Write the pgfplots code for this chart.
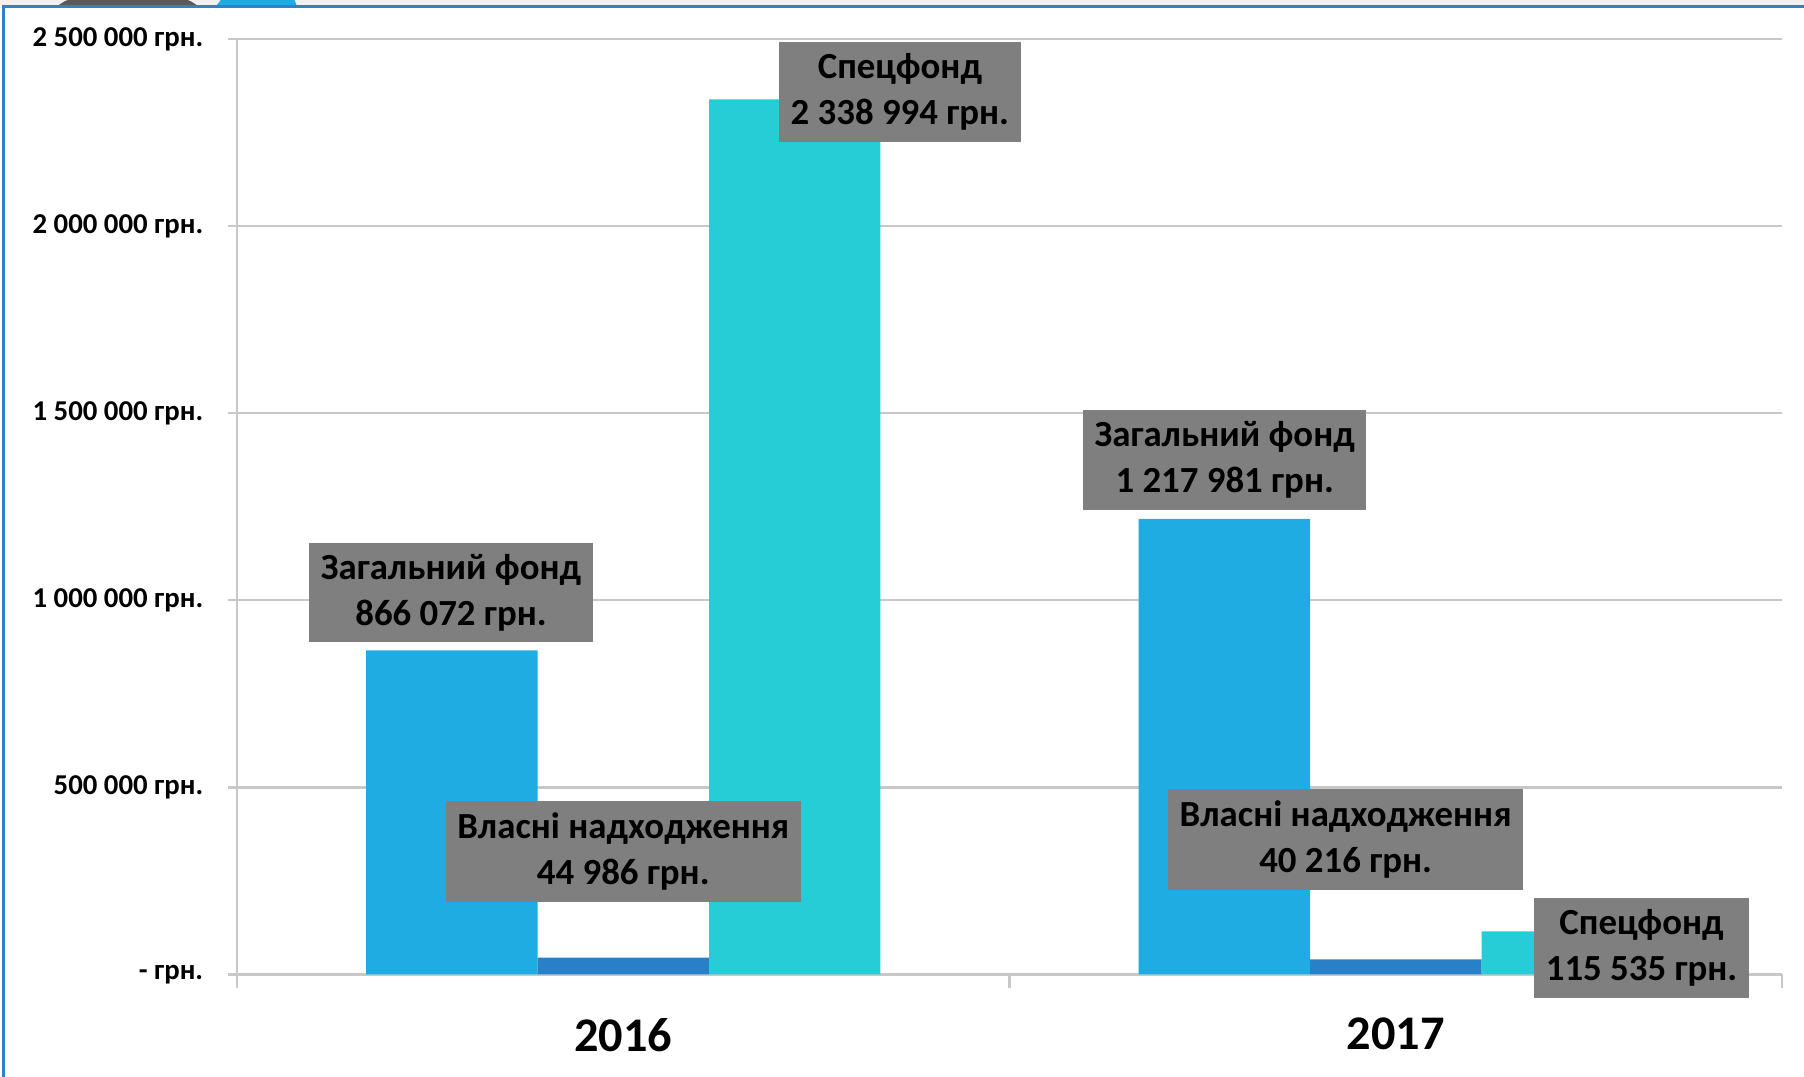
\documentclass[border=0pt]{standalone}
\usepackage{fontspec}
\setmainfont{Carlito}
\usepackage{pgfplots}
\usepackage{pgfplotstable}
\pgfplotsset{compat=1.18}

\definecolor{zag}{HTML}{1EACE2}
\definecolor{vla}{HTML}{2881C6}
\definecolor{spec}{HTML}{26CDD6}
\definecolor{gridc}{HTML}{C8C8C8}
\definecolor{lblbox}{HTML}{7F7F7F}
\definecolor{framec}{HTML}{2A84C9}

% 0 = 2016, 1 = 2017
\pgfplotstableread{
year zag vla spec
0 866072 44986 2338994
1 1217981 40216 115535
}\budget

\tikzset{lbl/.style={fill=lblbox, text=black, align=center, inner xsep=5pt, inner ysep=5pt,
  font=\fontsize{16}{20}\selectfont\bfseries}}

\begin{document}
\begin{tikzpicture}
\useasboundingbox (-103pt,-44.5pt) rectangle (681pt,423.5pt);
\begin{axis}[
  scale only axis, width=671.5pt, height=406.5pt,
  ybar=0pt, bar width=74.5pt,
  xmin=-0.5, xmax=1.5, ymin=0, ymax=2500000,
  xtick={0,1}, xticklabels={2016,2017},
  ytick={0,500000,1000000,1500000,2000000,2500000},
  yticklabels={- грн., 500 000 грн., 1 000 000 грн., 1 500 000 грн., 2 000 000 грн., 2 500 000 грн.},
  scaled y ticks=false,
  axis x line*=bottom, axis y line*=left,
  axis line style={draw=gridc, line width=1pt, -},
  ymajorgrids, grid style={draw=gridc, line width=1pt},
  tick align=outside, major tick length=4pt,
  ytick style={draw=gridc, line width=1pt},
  xtick style={draw=none},
  yticklabel style={font=\fontsize{12.5}{15}\selectfont\bfseries, inner sep=0pt, xshift=-10.5pt},
  xticklabel style={font=\fontsize{21}{25}\selectfont\bfseries, yshift=-11.5pt},
  clip=false,
]
\addplot[fill=zag, draw=none] table[x=year, y=zag] {\budget};
\addplot[fill=vla, draw=none] table[x=year, y=vla] {\budget};
\addplot[fill=spec, draw=none] table[x=year, y=spec] {\budget};

\draw[gridc, line width=1pt] (axis cs:-0.5,0) -- ([yshift=-6pt]axis cs:-0.5,0);
\draw[gridc, line width=1pt] (axis cs:0.5,0) -- ([yshift=-6pt]axis cs:0.5,0);
\draw[gridc, line width=1pt] (axis cs:1.5,0) -- ([yshift=-6pt]axis cs:1.5,0);

\node[lbl] at (axis cs:-0.223,1020900) {Загальний фонд\\866 072 грн.};
\node[lbl] at (axis cs:0,329000) {Власні надходження\\44 986 грн.};
\node[lbl] at (axis cs:0.358,2358500) {Спецфонд\\2 338 994 грн.};
\node[lbl] at (axis cs:0.7785,1374500) {Загальний фонд\\1 217 981 грн.};
\node[lbl] at (axis cs:0.935,360000) {Власні надходження\\40 216 грн.};
\node[lbl] at (axis cs:1.318,70700) {Спецфонд\\115 535 грн.};
\end{axis}

% window frame of the screenshot
\fill[gray!12] (-103pt,421.5pt) rectangle (681pt,423.5pt);
\fill[black!65, rounded corners=1pt] (-78pt,421pt) -- (-74pt,423.5pt) -- (-21pt,423.5pt) -- (-17pt,421pt) -- cycle;
\fill[zag] (-9pt,421pt) -- (-7pt,423.5pt) -- (25pt,423.5pt) -- (26pt,421pt) -- cycle;
\draw[framec, line width=1.5pt] (-101.5pt,420.75pt) -- (681pt,420.75pt);
\draw[framec, line width=1.5pt] (-101.5pt,421.5pt) -- (-101.5pt,-44.5pt);
\end{tikzpicture}
\end{document}
